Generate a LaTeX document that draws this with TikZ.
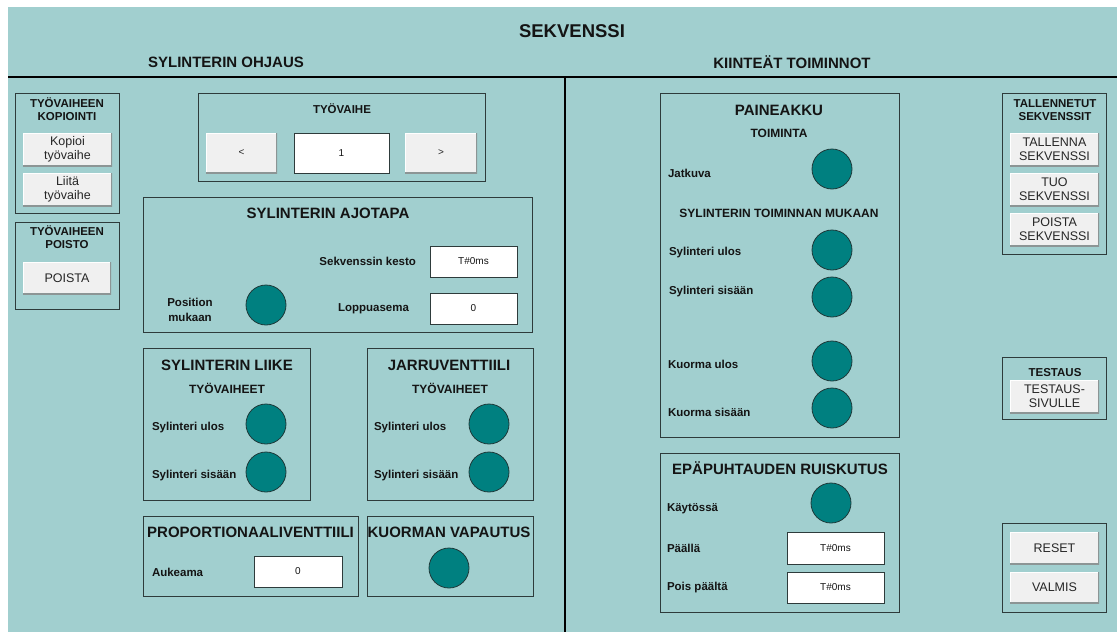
\documentclass[tikz,border=0pt]{standalone}
\usepackage{fontspec}
\setmainfont{Liberation Sans}
\usepackage{xcolor}
\usepackage{tikz}
\definecolor{screenbg}{HTML}{A1CFCF}
\definecolor{lampteal}{HTML}{008080}
\definecolor{lampedge}{HTML}{1E3A3A}
\definecolor{framegray}{HTML}{2E3B3B}
\definecolor{btnface}{HTML}{F0F0F0}
\definecolor{btnshade}{HTML}{8C9595}
\definecolor{inktext}{HTML}{141414}
\usetikzlibrary{positioning}

\begin{document}
\begin{tikzpicture}[
          x=1pt, y=-1pt,
          every node/.style = {text=inktext, inner sep=0pt, outer sep=0pt},
          bigttl/.style = {font=\fontsize{18.5}{20}\selectfont\bfseries},
          headttl/.style = {font=\fontsize{15}{17}\selectfont\bfseries},
          subttl/.style = {font=\fontsize{12}{14}\selectfont\bfseries},
          smallttl/.style = {font=\fontsize{11.5}{13.5}\selectfont\bfseries, align=center},
          lbl/.style = {font=\fontsize{11.5}{15}\selectfont\bfseries, anchor=west},
          panel/.style = {draw=framegray, line width=1pt, anchor=north west},
          btn/.style = {fill=btnface, align=center,
                        font=\fontsize{12.5}{14}\selectfont, text=black!85,
                        path picture={
                          \draw[white, line width=2pt] (path picture bounding box.south west)
                            |- (path picture bounding box.north east);
                          \draw[btnshade, line width=3pt] (path picture bounding box.south west)
                            -| (path picture bounding box.north east);}},
          field/.style = {fill=white, draw=framegray, line width=1pt,
                          font=\fontsize{10}{12}\selectfont},
          lamp/.style = {circle, fill=lampteal, draw=lampedge, line width=0.8pt,
                         minimum size=40},
        ]
        %% Screen
        \fill[white] (0,0) rectangle (1117,632);
        \fill[screenbg] (8,7) rectangle (1117,632);
        \useasboundingbox (0,0) rectangle (1117,632);
        \coordinate (hl) at (8,77);
        \coordinate (hr) at (1117,77);
        \coordinate (vt) at (565,77);
        \coordinate (vb) at (565,632);
        \draw[black, line width=2pt] (hl) -- (hr);
        \draw[black, line width=2pt] (vt) -- (vb);

        \node[bigttl]  (seq)  at (572,31) {SEKVENSSI};
        \node[headttl] (ohj)  at (226,62) {SYLINTERIN OHJAUS};
        \node[headttl] (kiin) at (792,62) {KIINTEÄT TOIMINNOT};

        %% Tyovaiheen kopiointi / poisto
        \node[panel, minimum width=104, minimum height=120] (kop) at (15,93) {};
        \node[smallttl] (kopT) at (67,109) {TYÖVAIHEEN\\KOPIOINTI};
        \node[btn, minimum width=89, minimum height=33] (kopB) at (67.5,149.5) {Kopioi\\työvaihe};
        \node[btn, minimum width=89, minimum height=33, below=7pt of kopB] (liiB) {Liitä\\työvaihe};

        \node[panel, minimum width=104, minimum height=87] (poi) at (15,222) {};
        \node[smallttl] (poiT) at (67,237) {TYÖVAIHEEN\\POISTO};
        \node[btn, minimum width=88, minimum height=32] (poiB) at (67,278) {POISTA};

        %% Tyovaihe
        \node[panel, minimum width=287, minimum height=88] (vai) at (198,93) {};
        \node[smallttl] (vaiT) at (342,109) {TYÖVAIHE};
        \node[btn, minimum width=71, minimum height=40, font=\fontsize{10}{12}\selectfont] (prevB) at (241.5,153) {<};
        \node[field, minimum width=95, minimum height=40] (vaiF) at (341.5,153) {1};
        \node[btn, minimum width=72, minimum height=40, font=\fontsize{10}{12}\selectfont] (nextB) at (441,153) {>};

        %% Sylinterin ajotapa
        \node[panel, minimum width=389, minimum height=135] (ajo) at (143,197) {};
        \node[headttl] (ajoT) at (328,213) {SYLINTERIN AJOTAPA};
        \node[lbl, anchor=east] (kestoL) at (416,261) {Sekvenssin kesto};
        \node[field, minimum width=87, minimum height=31] (kestoF) at (473.5,261.5) {T\#0ms};
        \node[lbl, anchor=center, align=center] (posL) at (190,310) {Position\\mukaan};
        \node[lamp] (posLamp) at (266,305) {};
        \node[lbl, anchor=east] (loppuL) at (409,309) {Loppuasema};
        \node[field, minimum width=87, minimum height=31] (loppuF) at (473.5,308.5) {0};

        %% Sylinterin liike
        \node[panel, minimum width=167, minimum height=152] (lii) at (143,348) {};
        \node[headttl] (liiT) at (227,365) {SYLINTERIN LIIKE};
        \node[subttl] (liiS) at (227,388) {TYÖVAIHEET};
        \node[lbl] (liiUL) at (152,428) {Sylinteri ulos};
        \node[lamp] (liiU) at (266,424) {};
        \node[lbl] (liiSL) at (152,476) {Sylinteri sisään};
        \node[lamp] (liiS2) at (266,472) {};

        %% Jarruventtiili
        \node[panel, minimum width=166, minimum height=152] (jar) at (367,348) {};
        \node[headttl] (jarT) at (449,365) {JARRUVENTTIILI};
        \node[subttl] (jarS) at (450,388) {TYÖVAIHEET};
        \node[lbl] (jarUL) at (374,428) {Sylinteri ulos};
        \node[lamp] (jarU) at (489,424) {};
        \node[lbl] (jarSL) at (374,476) {Sylinteri sisään};
        \node[lamp] (jarS2) at (489,472) {};

        %% Proportionaaliventtiili / kuorman vapautus
        \node[panel, minimum width=215, minimum height=80] (pro) at (143,516) {};
        \node[headttl] (proT) at (250.5,532) {PROPORTIONAALIVENTTIILI};
        \node[lbl] (aukL) at (152,572) {Aukeama};
        \node[field, minimum width=88, minimum height=31] (aukF) at (298,571.5) {0};

        \node[panel, minimum width=166, minimum height=80] (kuo) at (367,516) {};
        \node[headttl] (kuoT) at (449,532) {KUORMAN VAPAUTUS};
        \node[lamp] (kuoL) at (449,568) {};

        %% Paineakku
        \node[panel, minimum width=239, minimum height=344] (pai) at (660,93) {};
        \node[headttl] (paiT) at (779,110) {PAINEAKKU};
        \node[subttl] (paiS) at (779,133) {TOIMINTA};
        \node[lbl] (jatL) at (668,173) {Jatkuva};
        \node[lamp] (jat) at (832,169) {};
        \node[subttl] (paiS2) at (779,213) {SYLINTERIN TOIMINNAN MUKAAN};
        \node[lbl] (pUL) at (669,253) {Sylinteri ulos};
        \node[lamp] (pU) at (832,250) {};
        \node[lbl] (pSL) at (669,292) {Sylinteri sisään};
        \node[lamp] (pS) at (832,297) {};
        \node[lbl] (kUL) at (668,364) {Kuorma ulos};
        \node[lamp] (kU) at (832,361) {};
        \node[lbl] (kSL) at (668,412) {Kuorma sisään};
        \node[lamp] (kS) at (832,408) {};

        %% Epapuhtauden ruiskutus
        \node[panel, minimum width=239, minimum height=159] (rui) at (660,453) {};
        \node[headttl] (ruiT) at (780,468) {EPÄPUHTAUDEN RUISKUTUS};
        \node[lbl] (kayL) at (667,509) {Käytössä};
        \node[lamp] (kay) at (831,503) {};
        \node[lbl] (paaL) at (667,548) {Päällä};
        \node[field, minimum width=97, minimum height=32] (paaF) at (835.5,548) {T\#0ms};
        \node[lbl] (poisL) at (667,588) {Pois päältä};
        \node[field, minimum width=97, minimum height=31] (poisF) at (835.5,587.5) {T\#0ms};

        %% Tallennetut sekvenssit
        \node[panel, minimum width=104, minimum height=161] (tal) at (1002,93) {};
        \node[smallttl] (talT) at (1055,110) {TALLENNETUT\\SEKVENSSIT};
        \node[btn, minimum width=89, minimum height=33] (talB) at (1054.5,149.5) {TALLENNA\\SEKVENSSI};
        \node[btn, minimum width=89, minimum height=33, below=7pt of talB] (tuoB) {TUO\\SEKVENSSI};
        \node[btn, minimum width=89, minimum height=33, below=7pt of tuoB] (posB) {POISTA\\SEKVENSSI};

        %% Testaus
        \node[panel, minimum width=104, minimum height=62] (tes) at (1002,357) {};
        \node[smallttl] (tesT) at (1055,373) {TESTAUS};
        \node[btn, minimum width=89, minimum height=33] (tesB) at (1054.5,396.5) {TESTAUS-\\SIVULLE};

        %% Reset / valmis
        \node[panel, minimum width=104, minimum height=89] (fin) at (1002,523) {};
        \node[btn, minimum width=89, minimum height=32] (resB) at (1054.5,548) {RESET};
        \node[btn, minimum width=89, minimum height=31, below=8pt of resB] (valB) {VALMIS};
      \end{tikzpicture}
\end{document}
